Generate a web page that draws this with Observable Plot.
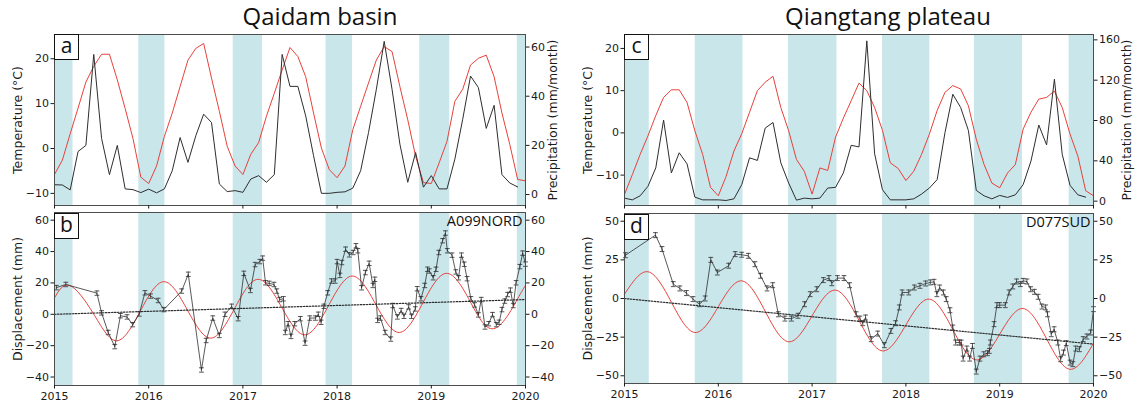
<!DOCTYPE html>
<html><head><meta charset="utf-8">
<script src="https://cdn.jsdelivr.net/npm/d3@7"></script>
<script src="https://cdn.jsdelivr.net/npm/@observablehq/plot@0.6"></script>
<style>
body{margin:0;background:#fff;}
#root{position:relative;width:1140px;height:407px;overflow:hidden;background:#fff;}
.panel{position:absolute;}
.title{position:absolute;font-family:"Open Sans",sans-serif;font-size:24px;line-height:24px;color:#111;white-space:nowrap;transform:translateX(-50%);}
.letter{position:absolute;width:23px;height:24px;border:1.4px solid #111;background:#fff;font-family:"Open Sans",sans-serif;font-size:21px;line-height:21px;text-align:center;color:#111;}
</style></head><body><div id="root"></div>
<script>
// ---------- data ----------
const years = [2015, 2016, 2017, 2018, 2019, 2020];

// frozen-season shading (decimal years)
const bandStartQaidam = [2015.0, 2015.895, 2016.897, 2017.883, 2018.877, 2019.913];
const bandEndQaidam   = [2015.197, 2016.172, 2017.208, 2018.164, 2019.196, 2020.0];
const bandStartQiang  = [2015.0, 2015.754, 2016.748, 2017.751, 2018.73, 2019.74];
const bandEndQiang    = [2015.264, 2016.263, 2017.265, 2018.256, 2019.243, 2020.0];

// panel a: monthly temperature (°C) Jan 2015 - Jan 2020, precipitation (mm/month) Jan 2015 - Dec 2019
const tempA = [-5.8,-2.6,3.3,9.0,14.8,18.3,21.0,21.0,15.3,8.9,2.2,-6.4,
  -7.8,-3.9,2.7,7.9,13.8,19.7,22.3,23.4,15.7,8.3,0.5,-3.9,
  -5.8,-1.3,1.3,7.2,12.3,17.5,22.5,20.5,16.0,7.9,0.1,-4.7,
  -6.5,-3.9,4.2,9.4,14.6,19.7,22.7,21.6,13.8,6.4,-1.7,-7.6,
  -7.8,-3.2,1.6,10.5,13.2,18.6,20.1,20.8,16.0,7.9,0.9,-6.9,
  -7.2];
const precipA = [4.0,3.9,1.9,17.5,20.0,57.0,22.8,8.1,20.0,2.3,2.0,0.8,
  2.2,0.7,2.3,9.7,23.2,13.1,23.9,32.7,29.3,4.3,1.2,1.6,
  0.9,6.3,7.7,5.0,8.1,57.0,44.0,44.0,32.0,15.8,0.5,0.5,
  0.9,1.1,2.6,9.7,25.2,42.8,62.3,42.8,20.5,5.0,17.1,3.0,
  7.7,2.3,2.3,14.4,30.6,48.2,43.5,26.9,36.3,8.1,4.7,3.1];

// panel c
const tempC = [-14.6,-9.9,-5.1,-0.7,4.1,8.4,10.2,10.2,7.2,0.5,-5.1,-12.9,
  -14.9,-10.3,-4.3,-0.2,4.9,10.0,12.0,13.4,6.0,0.5,-6.3,-9.1,
  -14.5,-8.3,-8.9,-1.0,3.5,7.6,11.8,10.0,6.0,0.6,-7.1,-8.4,
  -11.3,-9.1,-5.1,-0.3,5.3,9.6,11.2,10.4,6.4,-1.5,-7.5,-11.9,
  -13.0,-9.5,-7.5,0.9,4.9,8.0,8.4,9.9,6.0,-0.3,-5.5,-13.7,
  -14.9];
const precipC = [3.0,1.3,5.3,14.7,33.0,80.5,28.0,48.0,37.0,4.0,1.3,1.3,
  1.3,0.7,2.3,16.4,43.0,40.4,72.5,78.0,38.0,18.0,1.0,3.0,
  2.3,3.0,13.0,13.7,28.0,55.4,53.8,159.0,47.0,11.4,1.3,1.3,
  1.3,2.3,7.0,13.0,21.4,68.0,106.0,93.0,70.0,10.7,5.3,2.3,
  5.7,3.7,6.3,16.4,39.7,75.5,55.8,121.0,46.4,15.7,6.3,4.0];

// panel b: A099NORD displacement (mm)
const dispBT = [2015.02,2015.12,2015.45,2015.50,2015.57,2015.64,2015.70,2015.77,2015.83,2015.90,2015.96,2016.02,2016.10,2016.16,2016.35,2016.42,2016.56,2016.61,2016.68,2016.75,2016.81,2016.88,2016.95,2017.01,2017.08,2017.13,2017.18,2017.21,2017.24,2017.28,2017.33,2017.36,2017.39,2017.43,2017.45,2017.48,2017.51,2017.55,2017.61,2017.66,2017.71,2017.77,2017.80,2017.83,2017.86,2017.90,2017.94,2017.98,2018.00,2018.03,2018.05,2018.09,2018.13,2018.17,2018.20,2018.22,2018.26,2018.30,2018.34,2018.38,2018.40,2018.43,2018.46,2018.51,2018.57,2018.59,2018.64,2018.68,2018.71,2018.76,2018.79,2018.83,2018.85,2018.89,2018.93,2018.96,2018.98,2019.02,2019.05,2019.08,2019.12,2019.15,2019.17,2019.22,2019.26,2019.29,2019.32,2019.35,2019.38,2019.42,2019.46,2019.50,2019.53,2019.57,2019.61,2019.65,2019.69,2019.72,2019.75,2019.78,2019.81,2019.84,2019.87,2019.90,2019.94,2019.97,2020.0];
const dispBV = [17,19,13.5,0.9,-11.6,-20.6,-0.9,-1.7,-6.6,0.2,13.7,11.6,8.8,3,14.8,25.5,-35.5,-16.7,-2.4,-13.5,0,5.1,-2.8,26.1,15.2,31.7,33.6,35.8,20.1,19.7,19,14.8,9.4,9.9,-11.6,-6,-14.1,-6,-2.8,-18.4,-2.4,-2.4,0,-5.1,5.1,13.7,21.2,21.2,33.6,24.8,33,41.5,37.9,39.4,43.7,40.5,16.9,26.6,32.5,18.4,22.3,-3.9,-2.4,-11.6,-15.8,5.6,-1.7,2.4,-1.3,4.7,-1.3,3.4,16.3,9.9,18.4,28.7,27.6,23.3,28.7,39.4,46.9,51.8,40.5,37.7,27,23.3,37.7,31.9,22.7,9.9,6,-0.4,9.4,-8.1,-6,-0.2,-6.6,-5.1,3,8.4,12.6,15.4,5.6,20.1,30.4,39,32];
const errB = 1.4;
const fitBT = [2015.0,2015.16,2015.41,2015.66,2015.91,2016.16,2016.41,2016.66,2016.91,2017.16,2017.41,2017.66,2017.91,2018.16,2018.41,2018.66,2018.91,2019.16,2019.41,2019.66,2019.91,2020.0];
const fitBV = [10.5,18.4,0.75,-16.9,1.95,20.8,2.8,-15.2,3.55,22.3,4.6,-13.1,5.65,24.4,6.4,-11.6,7.25,26.1,8.45,-9.2,9.2,18.4];
const trendBT = [2015.0, 2020.0];
const trendBV = [0, 9.4];

// panel d: D077SUD displacement (mm)
const dispDT = [2015.01,2015.33,2015.40,2015.52,2015.59,2015.66,2015.73,2015.80,2015.86,2015.92,2015.99,2016.11,2016.18,2016.25,2016.32,2016.39,2016.45,2016.52,2016.58,2016.64,2016.71,2016.78,2016.85,2016.92,2016.98,2017.05,2017.12,2017.18,2017.21,2017.27,2017.34,2017.40,2017.47,2017.51,2017.54,2017.57,2017.63,2017.70,2017.77,2017.84,2017.89,2017.93,2017.96,2018.03,2018.09,2018.15,2018.21,2018.26,2018.30,2018.33,2018.36,2018.40,2018.43,2018.47,2018.50,2018.53,2018.57,2018.59,2018.61,2018.65,2018.68,2018.71,2018.75,2018.79,2018.83,2018.87,2018.89,2018.90,2018.94,2018.97,2019.00,2019.06,2019.10,2019.14,2019.18,2019.22,2019.25,2019.29,2019.33,2019.37,2019.41,2019.45,2019.49,2019.51,2019.55,2019.58,2019.62,2019.65,2019.68,2019.71,2019.75,2019.78,2019.81,2019.85,2019.89,2019.93,2019.97,2020.0];
const dispDV = [28,41,32,9.3,6.5,3.5,-0.4,-3.7,0,25,16.8,21.2,28.7,28.3,27.6,22.2,14.7,6.5,8.6,-10.2,-13,-13,-11.2,-3.7,2.8,6,11.9,13.2,9.9,13.2,13.2,8.6,-10.2,-13,-16,-12.3,-26.3,-22.7,-30.2,-21,-16,-5.8,3.9,3.9,7.1,8.2,9.7,10.4,10.8,2.8,7.1,3.9,-0.4,-7.6,-18.8,-28.5,-28.5,-28.5,-38.9,-32.4,-38.9,-30.7,-47.3,-38.9,-36.1,-35.4,-33.9,-28.5,-16.6,-4.3,-4.3,-4.3,3.9,7.8,11,9.3,11.4,11,6,4.3,1.1,-5.2,-5.8,-10.2,-23.1,-19.9,-28.5,-39.3,-35,-28.9,-41.5,-42.5,-32.4,-32.8,-26.3,-24.6,-22,-6.9];
const errD = 1.6;
const fitDT = [2015.0,2015.25,2015.5,2015.75,2016.0,2016.25,2016.5,2016.75,2017.0,2017.25,2017.5,2017.75,2018.0,2018.25,2018.5,2018.75,2019.0,2019.25,2019.5,2019.75,2020.0];
const fitDV = [2.8,17.3,-2.4,-22,-5.3,11.4,-8.3,-28,-11.2,5.4,-14.2,-33.9,-17.1,-0.4,-20.1,-39.7,-23.1,-6.5,-26.1,-45.8,-29];
const trendDT = [2015.0, 2020.0];
const trendDV = [0, -29.5];

// axis domains and ticks
const tempDomainA = [-12.7, 25.4], precipDomainA = [-4.45, 65.1];
const tempTicksA = [-10, 0, 10, 20], precipTicksA = [0, 20, 40, 60];
const tempDomainC = [-17.2, 23.3], precipDomainC = [-4.3, 165.3];
const tempTicksC = [-10, 0, 10, 20], precipTicksC = [0, 40, 80, 120, 160];
const dispDomainB = [-45.4, 64.9], dispTicksB = [-40, -20, 0, 20, 40, 60];
const dispDomainD = [-55, 55], dispTicksD = [-50, -25, 0, 25, 50];

// ---------- helpers ----------
const RED = "#e8413a", BLK = "#2e2e2e", SHADE = "#c9e6eb";
const monthly = vals => vals.map((v, i) => ({t: 2015 + i / 12, v}));
const pairs = (ts, vs) => ts.slice(0, Math.min(ts.length, vs.length)).map((t, i) => ({t, v: vs[i]}));
const fmt = d3.format("d");
const hbar = {draw(ctx, size) { const w = Math.sqrt(size / Math.PI); ctx.moveTo(-w, 0); ctx.lineTo(w, 0); }};
const root = document.getElementById("root");

function panel(cfg) {
  const bands = cfg.bandS.map((s, i) => ({s, e: cfg.bandE[i]}));
  const map = cfg.rightMap || (v => v);
  const rightPos = cfg.rightTicks.map(map);
  const rightLab = new Map(rightPos.map((p, i) => [p, cfg.rightTicks[i]]));
  const svg = Plot.plot({
    width: cfg.width, height: cfg.height,
    marginLeft: cfg.mL, marginRight: cfg.mR, marginTop: cfg.mT, marginBottom: cfg.mB,
    style: {fontFamily: "'DejaVu Sans', sans-serif", fontSize: "11px", color: "#1a1a1a", background: "transparent", overflow: "visible"},
    x: {domain: [2015, 2020]},
    y: {domain: cfg.yDomain},
    marks: [
      Plot.rect(bands, {x1: "s", x2: "e", fill: SHADE}),
      ...cfg.marks,
      Plot.frame({stroke: "#4d4d4d", strokeWidth: 1}),
      Plot.axisY(cfg.leftTicks, {anchor: "left", tickSize: 3.5, tickPadding: 2, label: null, tickFormat: fmt}),
      Plot.axisY(rightPos, {anchor: "right", tickSize: 3.5, tickPadding: 2, label: null, tickFormat: d => fmt(rightLab.get(d))}),
      Plot.axisX(years, {anchor: "bottom", tickSize: 3.5, tickPadding: 3, label: null, tickFormat: cfg.showX ? (d => String(d)) : (() => "")}),
      Plot.text([cfg.leftLabel], {text: d => d, frameAnchor: "left", textAnchor: "middle", lineAnchor: "middle", rotate: -90, dx: -37, fontSize: 12.5}),
      cfg.rightLabel ? Plot.text([cfg.rightLabel], {text: d => d, frameAnchor: "right", textAnchor: "middle", lineAnchor: "middle", rotate: -90, dx: cfg.rightDx, fontSize: 12.5}) : null,
      cfg.tag ? Plot.text([cfg.tag], {text: d => d, frameAnchor: "top-right", textAnchor: "end", lineAnchor: "top", dx: -3, dy: 3, fontSize: 14.5, fontFamily: "'Open Sans', sans-serif", fill: "#111"}) : null
    ]
  });
  const div = document.createElement("div");
  div.className = "panel";
  div.style.left = cfg.left + "px";
  div.style.top = cfg.top + "px";
  div.appendChild(svg);
  root.appendChild(div);
}

function dispMarks(rows, err) {
  return [
    Plot.ruleX(rows, {x: "t", y1: d => d.v - err, y2: d => d.v + err, stroke: BLK, strokeWidth: 0.8}),
    Plot.dot(rows, {x: "t", y: d => d.v - err, symbol: hbar, r: 2.4, fill: "none", stroke: BLK, strokeWidth: 0.8}),
    Plot.dot(rows, {x: "t", y: d => d.v + err, symbol: hbar, r: 2.4, fill: "none", stroke: BLK, strokeWidth: 0.8}),
    Plot.line(rows, {x: "t", y: "v", stroke: BLK, strokeWidth: 0.8})
  ];
}

// ---------- panel a ----------
const pToA = d3.scaleLinear().domain(precipDomainA).range(tempDomainA);
panel({
  left: 0, top: 28, width: 570, height: 190, mL: 54, mR: 45, mT: 6, mB: 13,
  yDomain: tempDomainA, leftTicks: tempTicksA, rightTicks: precipTicksA, rightMap: pToA,
  bandS: bandStartQaidam, bandE: bandEndQaidam, showX: false,
  leftLabel: "Temperature (°C)", rightLabel: "Precipitation (mm/month)", rightDx: 27,
  marks: [
    Plot.line(monthly(tempA), {x: "t", y: "v", stroke: RED, strokeWidth: 1}),
    Plot.line(monthly(precipA), {x: "t", y: d => pToA(d.v), stroke: BLK, strokeWidth: 1})
  ]
});

// ---------- panel b ----------
panel({
  left: 0, top: 206, width: 570, height: 201, mL: 54, mR: 45, mT: 6, mB: 22,
  yDomain: dispDomainB, leftTicks: dispTicksB, rightTicks: dispTicksB,
  bandS: bandStartQaidam, bandE: bandEndQaidam, showX: true,
  leftLabel: "Displacement (mm)", tag: "A099NORD",
  marks: [
    Plot.line(pairs(fitBT, fitBV), {x: "t", y: "v", stroke: RED, strokeWidth: 1, curve: "natural"}),
    Plot.line(pairs(trendBT, trendBV), {x: "t", y: "v", stroke: BLK, strokeWidth: 1.2, strokeDasharray: "1.5,1.5"}),
    ...dispMarks(pairs(dispBT, dispBV), errB)
  ]
});

// ---------- panel c ----------
const pToC = d3.scaleLinear().domain(precipDomainC).range(tempDomainC);
panel({
  left: 570, top: 28, width: 570, height: 190, mL: 54, mR: 47, mT: 6, mB: 13,
  yDomain: tempDomainC, leftTicks: tempTicksC, rightTicks: precipTicksC, rightMap: pToC,
  bandS: bandStartQiang, bandE: bandEndQiang, showX: false,
  leftLabel: "Temperature (°C)", rightLabel: "Precipitation (mm/month)", rightDx: 33,
  marks: [
    Plot.line(monthly(tempC), {x: "t", y: "v", stroke: RED, strokeWidth: 1}),
    Plot.line(monthly(precipC), {x: "t", y: d => pToC(d.v), stroke: BLK, strokeWidth: 1})
  ]
});

// ---------- panel d ----------
panel({
  left: 570, top: 206, width: 570, height: 201, mL: 54, mR: 47, mT: 7, mB: 24,
  yDomain: dispDomainD, leftTicks: dispTicksD, rightTicks: dispTicksD,
  bandS: bandStartQiang, bandE: bandEndQiang, showX: true,
  leftLabel: "Displacement (mm)", tag: "D077SUD",
  marks: [
    Plot.line(pairs(fitDT, fitDV), {x: "t", y: "v", stroke: RED, strokeWidth: 1, curve: "natural"}),
    Plot.line(pairs(trendDT, trendDV), {x: "t", y: "v", stroke: BLK, strokeWidth: 1.2, strokeDasharray: "1.5,1.5"}),
    ...dispMarks(pairs(dispDT, dispDV), errD)
  ]
});

// ---------- titles and panel letters ----------
function addDiv(cls, text, left, top) {
  const d = document.createElement("div");
  d.className = cls; d.textContent = text;
  d.style.left = left + "px"; d.style.top = top + "px";
  root.appendChild(d);
}
addDiv("title", "Qaidam basin", 320, 4);
addDiv("title", "Qiangtang plateau", 888, 4);
addDiv("letter", "a", 54, 34);
addDiv("letter", "b", 54, 213);
addDiv("letter", "c", 624, 34);
addDiv("letter", "d", 624, 214);
</script></body></html>
